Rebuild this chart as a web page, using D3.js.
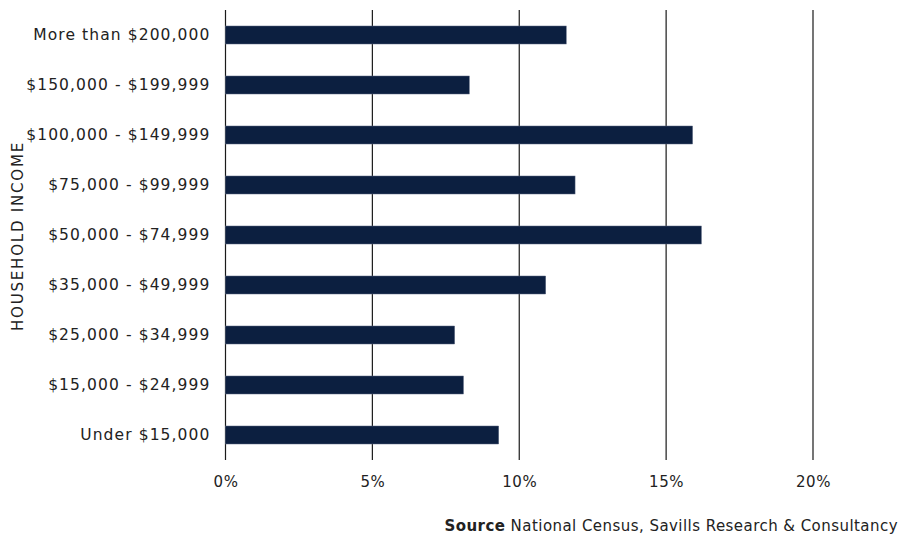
<!DOCTYPE html>
<html><head><meta charset="utf-8">
<script src="https://cdn.jsdelivr.net/npm/d3@7"></script>
<style>body{margin:0;background:#fff}svg{display:block}text{font-family:"DejaVu Sans",sans-serif;fill:#222}</style>
</head><body>
<script>
const categories = ["More than $200,000","$150,000 - $199,999","$100,000 - $149,999","$75,000 - $99,999","$50,000 - $74,999","$35,000 - $49,999","$25,000 - $34,999","$15,000 - $24,999","Under $15,000"];
const values = [11.6, 8.3, 15.9, 11.9, 16.2, 10.9, 7.8, 8.1, 9.3];
const xTicks = [0, 5, 10, 15, 20];
const yTitle = "HOUSEHOLD INCOME";
const sourceBold = "Source";
const sourceText = " National Census, Savills Research & Consultancy";

const W = 900, H = 537;
const FONT = '"DejaVu Sans",sans-serif';
const svg = d3.select("body").append("svg").attr("width", W).attr("height", H);
const x = d3.scaleLinear().domain([0, 20]).range([225.5, 813]);
const y = d3.scaleBand().domain(categories).range([10, 460]).paddingInner(0.64).paddingOuter(0.32);

// grid
svg.append("g").selectAll("line").data(xTicks).join("line")
  .attr("x1", d => x(d)).attr("x2", d => x(d)).attr("y1", 10).attr("y2", 460)
  .attr("stroke", "#1a1a1a").attr("stroke-width", 1.2);

// bars
svg.append("g").selectAll("rect").data(values).join("rect")
  .attr("x", x(0)).attr("y", (d, i) => y(categories[i]))
  .attr("width", d => x(d) - x(0)).attr("height", y.bandwidth())
  .attr("fill", "#0c1f40").attr("stroke", "#5a6680").attr("stroke-width", 0.5);

// y labels
const ya = svg.append("g").attr("transform", `translate(${x(0)},0)`)
  .call(d3.axisLeft(y).tickSize(0).tickPadding(15));
ya.select(".domain").remove();
ya.selectAll("text").style("font-size", "15.5px").style("letter-spacing", "1.1px")
  .style("font-family", FONT).attr("fill", "#222");

// x labels
const xa = svg.append("g").attr("transform", `translate(0,460)`)
  .call(d3.axisBottom(x).tickValues(xTicks).tickFormat(d => d + "%").tickSize(0).tickPadding(16));
xa.select(".domain").remove();
xa.selectAll("text").style("font-size", "15px").style("letter-spacing", "0.6px")
  .style("font-family", FONT).attr("fill", "#222");

// y title
svg.append("text").attr("transform", "translate(22.5,236) rotate(-90)")
  .attr("text-anchor", "middle").style("font-size", "15px").style("letter-spacing", "1.8px").text(yTitle);

// source
const s = svg.append("text").attr("x", 898).attr("y", 531).attr("text-anchor", "end")
  .style("font-size", "15px").style("letter-spacing", "0.45px");
s.append("tspan").style("font-weight", "bold").text(sourceBold);
s.append("tspan").text(sourceText);
</script>
</body></html>
